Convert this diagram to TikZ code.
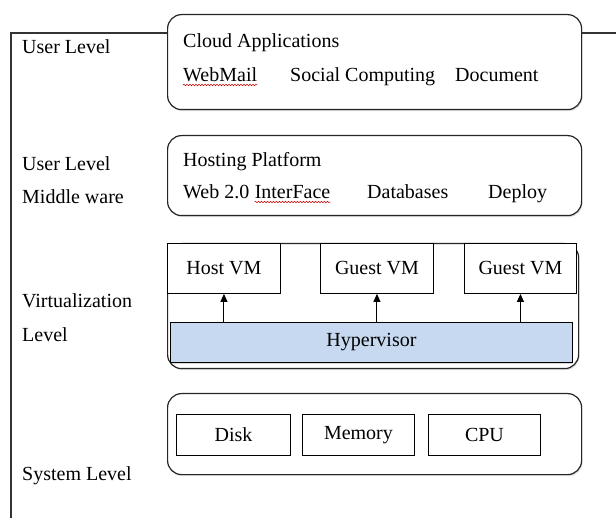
\documentclass[tikz,border=0pt]{standalone}
\usepackage{fontspec}
\setmainfont{Liberation Serif}
\usetikzlibrary{calc,arrows.meta,shadows,decorations.pathmorphing}
\definecolor{hypblue}{HTML}{C6D9F1}

\begin{document}
\begin{tikzpicture}[x=1pt,y=-1pt,
  layer/.style={rectangle,draw=black!85,line width=1.2pt,fill=white,rounded corners=14pt,anchor=north west,inner sep=0pt,drop shadow={opacity=0.25,shadow xshift=1pt,shadow yshift=-1.5pt}},
  unit/.style={rectangle,draw=black,line width=0.9pt,fill=white,anchor=north west,inner sep=0pt,font=\fontsize{20}{23}\selectfont},
  lbl/.style={anchor=base west,inner sep=0pt,font=\fontsize{20}{23}\selectfont},
  up/.style={-{Triangle[length=8pt,width=7pt]},line width=1pt},
  typo/.style={red!80!black,line width=0.5pt,decorate,decoration={snake,amplitude=0.8pt,segment length=3pt}}]

\useasboundingbox (0,0) rectangle (616,518);

% outer frame
\draw [line width=1.4pt,black!80] (11,518) -- (11,33) -- (616,33);

% user level
\node [layer,minimum width=414,minimum height=95] (cloud) at (167,14) {};
\node [lbl] (userlvl) at (22,54) {User Level};
\node [lbl] (cloudapps) at (183,48) {Cloud Applications};
\node [lbl] (webmail) at (183,82) {WebMail};
\node [lbl] (social) at (290,82) {Social Computing};
\node [lbl] (document) at (455,82) {Document};
\draw [typo] ($(webmail.base west)+(0,3)$) -- ($(webmail.base east)+(0,3)$);

% middleware
\node [layer,minimum width=414,minimum height=80] (hosting) at (167,135) {};
\node [lbl] (midlvl1) at (22,171) {User Level};
\node [lbl] (midlvl2) at (22,204) {Middle ware};
\node [lbl] (hostplat) at (183,167) {Hosting Platform};
\node [lbl] (web) at (183,199) {Web 2.0};
\node [lbl,anchor=base west] (iface) at ($(web.base east)+(5,0)$) {InterFace};
\node [lbl] (databases) at (367,199) {Databases};
\node [lbl] (deploy) at (488,199) {Deploy};
\draw [typo] ($(iface.base west)+(0,3)$) -- ($(iface.base east)+(0,3)$);

% virtualization
\node [layer,minimum width=411,minimum height=125] (virt) at (167,243) {};
\node [lbl] (virtlvl1) at (22,308) {Virtualization};
\node [lbl] (virtlvl2) at (22,342) {Level};
\node [unit,minimum width=113,minimum height=50] (vm1) at (167,243) {Host VM};
\node [unit,minimum width=113,minimum height=50] (vm2) at (320,243) {Guest VM};
\node [unit,minimum width=112,minimum height=50] (vm3) at (464,243) {Guest VM};
\node [unit,fill=hypblue,minimum width=402,minimum height=40,drop shadow={opacity=0.3,shadow xshift=1pt,shadow yshift=-1.5pt}] (hyper) at (170,322) {Hypervisor};
\foreach \v in {vm1,vm2,vm3} {
    \draw [up] (\v.south |- hyper.north) -- (\v.south);
}

% system level
\node [layer,minimum width=414,minimum height=81] (system) at (167,393) {};
\node [lbl] (syslvl) at (22,480) {System Level};
\node [unit,minimum width=114,minimum height=41] (disk) at (176,414) {Disk};
\node [unit,minimum width=112,minimum height=41] (memory) at (302,414) {Memory};
\node [unit,minimum width=112,minimum height=41] (cpu) at (428,414) {CPU};

\end{tikzpicture}
\end{document}
